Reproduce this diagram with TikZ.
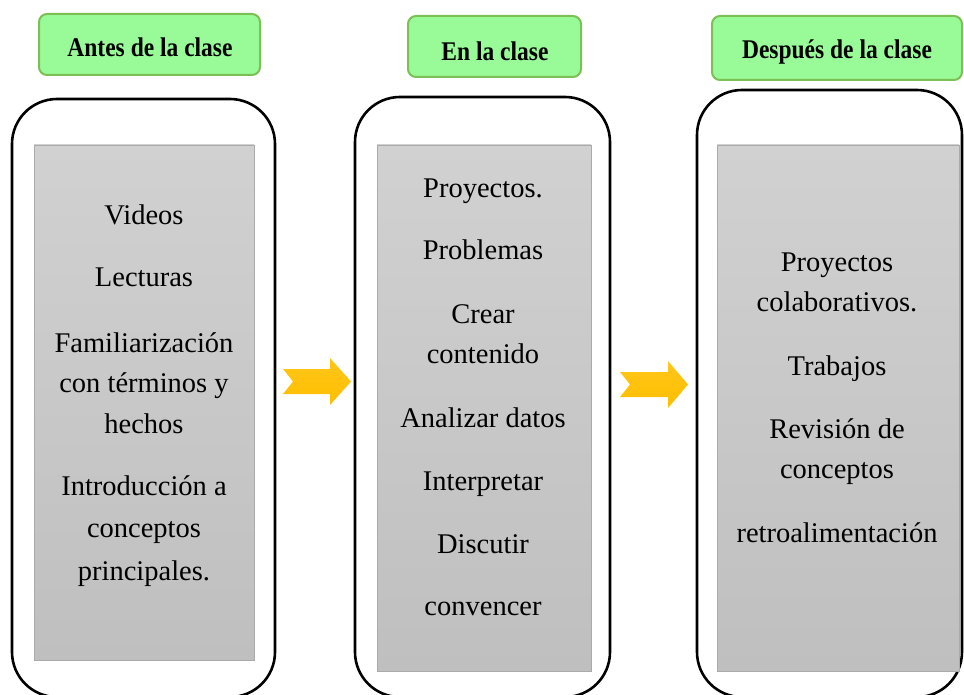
\documentclass[tikz,border=0pt]{standalone}
\usepackage{fontspec}
\setmainfont{Liberation Serif}
\definecolor{hdrfill}{HTML}{98FB98}
\definecolor{hdrborder}{HTML}{7CBF55}
\definecolor{grayA}{HTML}{D1D1D1}
\definecolor{grayB}{HTML}{BFBFBF}
\definecolor{grayborder}{HTML}{AAAAAA}
\definecolor{arrowcol}{HTML}{FFBF00}
\definecolor{arrowtop}{HTML}{FFC61A}
\begin{document}
\begin{tikzpicture}[x=1pt,y=-1pt,
  hdr/.style={draw=hdrborder, line width=2pt, fill=hdrfill, rounded corners=8pt, inner sep=0},
  outerbox/.style={draw=black, line width=2.6pt, rounded corners=45pt, inner sep=0},
  graybox/.style={draw=grayborder, line width=0.8pt, top color=grayA, bottom color=grayB, inner sep=0},
  item/.style={font=\fontsize{28.5}{34}\selectfont, anchor=base, inner sep=0},
  hdrtext/.style={font=\bfseries\fontsize{27}{32}\selectfont, anchor=base, inner sep=0},
  yarrow/.style={top color=arrowtop, bottom color=arrowcol, draw=none}]
\useasboundingbox (0,0) rectangle (964,695);
\clip (0,0) rectangle (964,695);

% headers
\node[hdr, minimum width=221pt, minimum height=61pt] (h1) at (149.5,44.5) {};
\node[hdr, minimum width=173pt, minimum height=61pt] (h2) at (494.5,46.5) {};
\node[hdr, minimum width=250pt, minimum height=64pt] (h3) at (837,48) {};
\node[hdrtext] (h1t) at (150,57) {\scalebox{0.87}[1]{Antes de la clase}};
\node[hdrtext] (h2t) at (495,61) {\scalebox{0.87}[1]{En la clase}};
\node[hdrtext] (h3t) at (837,59) {\scalebox{0.87}[1]{Después de la clase}};

% outer boxes
\node[outerbox, minimum width=263pt, minimum height=598pt] (o1) at (143.5,398) {};
\node[outerbox, minimum width=255pt, minimum height=600pt] (o2) at (482.5,397) {};
\node[outerbox, minimum width=265pt, minimum height=607pt] (o3) at (829.5,393.5) {};

% gray boxes
\node[graybox, minimum width=220pt, minimum height=515pt] (g1) at (144,402.5) {};
\node[graybox, minimum width=214pt, minimum height=526pt] (g2) at (484,408) {};
\node[graybox, minimum width=242pt, minimum height=526pt] (g3) at (838,408) {};

% column 1
\node[item] (a1) at (144,225) {Videos};
\node[item] (a2) at (144,287) {Lecturas};
\node[item] (a3) at (144,352) {Familiarización};
\node[item] (a4) at (144,392) {con términos y};
\node[item] (a5) at (144,433) {hechos};
\node[item] (a6) at (144,495) {Introducción a};
\node[item] (a7) at (144,537) {conceptos};
\node[item] (a8) at (144,580) {principales.};

% column 2
\node[item] (b1) at (483,198) {Proyectos.};
\node[item] (b2) at (483,260) {Problemas};
\node[item] (b3) at (483,323) {Crear};
\node[item] (b4) at (483,363) {contenido};
\node[item] (b5) at (483,427) {Analizar datos};
\node[item] (b6) at (483,490) {Interpretar};
\node[item] (b7) at (483,553) {Discutir};
\node[item] (b8) at (483,615) {convencer};

% column 3
\node[item] (c1) at (837,272) {Proyectos};
\node[item] (c2) at (837,311) {colaborativos.};
\node[item] (c3) at (837,375) {Trabajos};
\node[item] (c4) at (837,438) {Revisión de};
\node[item] (c5) at (837,478) {conceptos};
\node[item] (c6) at (837,542) {retroalimentación};

% arrows
\path[yarrow] (283,369) -- (330,369) -- (330,358) -- (351,381.5) -- (330,405) -- (330,394) -- (283,394) -- (293,381.5) -- cycle;
\path[yarrow] (620,372) -- (668,372) -- (668,361) -- (688,384.5) -- (668,408) -- (668,397) -- (620,397) -- (630,384.5) -- cycle;
\end{tikzpicture}
\end{document}
